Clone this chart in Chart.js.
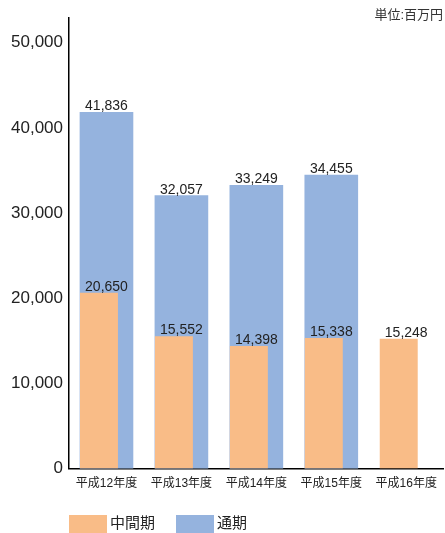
<!DOCTYPE html>
<html>
<head>
<meta charset="utf-8">
<script src="https://cdn.jsdelivr.net/npm/chart.js@4"></script>
<style>
  html, body { margin: 0; padding: 0; background: #fff; }
  #wrap { width: 445px; height: 533px; }
</style>
</head>
<body>
<div id="wrap"><canvas id="salesChart"></canvas></div>
<script>
// データ（単位：百万円）
const years = ['平成12年度', '平成13年度', '平成14年度', '平成15年度', '平成16年度'];
const interim = [20650, 15552, 14398, 15338, 15248];
const fullYear = [41836, 32057, 33249, 34455, null];
const yTicks = [0, 10000, 20000, 30000, 40000, 50000];
const unitText = '単位:百万円';

const ORANGE = '#f9bc87';
const BLUE = '#95b3de';
const FONT = '"Liberation Sans", "Noto Sans CJK JP", sans-serif';

// 棒の上に数値を表示
const valueLabels = {
    id: 'valueLabels',
    afterDatasetsDraw(chart) {
        const ctx = chart.ctx;
        const xScale = chart.scales.x;
        ctx.save();
        ctx.font = '14px ' + FONT;
        ctx.fillStyle = '#222';
        ctx.textAlign = 'center';
        ctx.textBaseline = 'alphabetic';
        chart.data.datasets.forEach((ds, di) => {
            if (!ds.label) return;
            const meta = chart.getDatasetMeta(di);
            meta.data.forEach((bar, i) => {
                const v = ds.data[i];
                if (v === null || v === undefined) return;
                ctx.fillText(v.toLocaleString('en-US'), xScale.getPixelForValue(i), bar.y - 2);
            });
        });
        ctx.restore();
    }
};

// 単位と凡例
const extras = {
    id: 'extras',
    afterDraw(chart) {
        const ctx = chart.ctx;
        ctx.save();
        ctx.font = '13px ' + FONT;
        ctx.fillStyle = '#333';
        ctx.textAlign = 'right';
        ctx.textBaseline = 'middle';
        ctx.fillText(unitText, chart.width - 2, 15);

        let x = chart.chartArea.left;
        const y = 515;
        ctx.font = '15px ' + FONT;
        ctx.textAlign = 'left';
        chart.data.datasets.forEach(ds => {
            if (!ds.label) return;
            ctx.fillStyle = ds.backgroundColor;
            ctx.fillRect(x, y, 38, 18);
            ctx.fillStyle = '#222';
            ctx.fillText(ds.label, x + 41, y + 9);
            x += 41 + ctx.measureText(ds.label).width + 21;
        });
        ctx.restore();
    }
};

new Chart(document.getElementById('salesChart'), {
    type: 'bar',
    data: {
        labels: years,
        datasets: [{
            label: '中間期',
            data: interim,
            backgroundColor: ORANGE,
            categoryPercentage: 0.4,
            barPercentage: 38 / 15
        }, {
            // 中間期の棒を左に寄せるためのダミー
            label: '',
            data: years.map(() => null),
            backgroundColor: 'rgba(0,0,0,0)',
            categoryPercentage: 0.4
        }, {
            label: '通期',
            data: fullYear,
            backgroundColor: BLUE,
            grouped: false,
            barThickness: 53
        }]
    },
    options: {
        responsive: true,
        maintainAspectRatio: false,
        animation: false,
        layout: {
            padding: { top: 18, right: 1, bottom: 34, left: 0 }
        },
        plugins: {
            legend: { display: false },
            tooltip: { enabled: false }
        },
        scales: {
            x: {
                grid: { display: false, drawTicks: false },
                border: { color: '#000', width: 1.5 },
                ticks: {
                    color: '#222',
                    font: { family: FONT, size: 12 },
                    padding: 8,
                    maxRotation: 0
                }
            },
            y: {
                min: 0,
                max: 52900,
                grid: { display: false, drawTicks: false },
                border: { color: '#000', width: 1.5 },
                afterBuildTicks(scale) {
                    scale.ticks = yTicks.map(v => ({ value: v }));
                },
                afterFit(scale) {
                    scale.width = 69;
                },
                ticks: {
                    color: '#222',
                    font: { family: FONT, size: 17 },
                    padding: 6,
                    callback: v => v.toLocaleString('en-US')
                }
            }
        }
    },
    plugins: [valueLabels, extras]
});
</script>
</body>
</html>
